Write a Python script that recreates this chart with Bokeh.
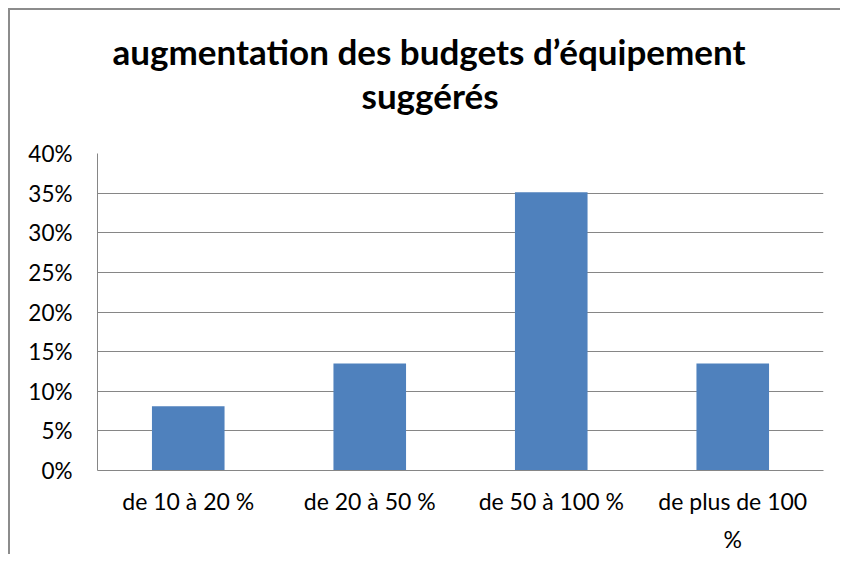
from bokeh.plotting import figure
from bokeh.models import Range1d, FixedTicker, NumeralTickFormatter, Title, LinearAxis
from bokeh.embed import file_html
from bokeh.resources import INLINE

# ---- data ----
categories = ["de 10 à 20 %", "de 20 à 50 %", "de 50 à 100 %", "de plus de 100 %"]
values = [0.081, 0.135, 0.351, 0.135]
y_ticks = [0.0, 0.05, 0.10, 0.15, 0.20, 0.25, 0.30, 0.35, 0.40]
title_lines = ["augmentation des budgets d’équipement", "suggérés"]

FONT = "Lato"
GRID = "#868686"

p = figure(width=832, height=546, output_backend="svg", toolbar_location=None,
           x_range=Range1d(0, len(categories)), y_range=Range1d(0, 0.40),
           min_border_left=87, min_border_right=19, min_border_top=143, min_border_bottom=86)
p.styles = {"border-left": "2px solid #8c8c8c", "border-top": "2px solid #8c8c8c",
            "margin-left": "8px", "margin-top": "8px"}
p.outline_line_color = None
p.background_fill_color = "white"
p.border_fill_color = "white"

xs = [i + 0.5 for i in range(len(categories))]
p.vbar(x=xs, top=values, width=0.4, color="#4F81BD", line_color=None)

# wrap long category labels onto two lines (as in the original)
line1, line2 = {}, {}
for x, c in zip(xs, categories):
    if len(c) > 14:
        a, b = c.rsplit(" ", 1)
        line1[x], line2[x] = a, b
    else:
        line1[x], line2[x] = c, ""

def style_x(ax, standoff):
    ax.ticker = FixedTicker(ticks=xs)
    ax.major_tick_line_color = None
    ax.minor_tick_line_color = None
    ax.major_tick_out = 0
    ax.major_tick_in = 0
    ax.minor_tick_out = 0
    ax.major_label_standoff = standoff
    ax.major_label_text_font = FONT
    ax.major_label_text_font_size = "23px"
    ax.major_label_text_color = "black"

xa = p.xaxis[0]
style_x(xa, 16)
xa.major_label_overrides = line1
xa.axis_line_color = GRID

xa2 = LinearAxis()
style_x(xa2, 7)
xa2.major_label_overrides = line2
xa2.axis_line_color = None
p.add_layout(xa2, "below")
p.xgrid.grid_line_color = None

# y axis
ya = p.yaxis[0]
ya.ticker = FixedTicker(ticks=y_ticks)
ya.formatter = NumeralTickFormatter(format="0%")
ya.axis_line_color = GRID
ya.major_tick_line_color = None
ya.minor_tick_line_color = None
ya.major_tick_out = 0
ya.major_tick_in = 0
ya.minor_tick_out = 0
ya.major_label_standoff = 25
ya.major_label_text_font = FONT
ya.major_label_text_font_size = "22.5px"
ya.major_label_text_color = "black"
p.ygrid.grid_line_color = GRID
p.ygrid.grid_line_width = 1
p.ygrid.ticker = FixedTicker(ticks=y_ticks)

# title: spacer nearest the plot, then the two lines
p.add_layout(Title(text=" ", text_font_size="1px", standoff=35), "above")
p.add_layout(Title(text=title_lines[1], align="left", offset=264, standoff=0,
                   text_font=FONT, text_font_style="bold", text_font_size="35px",
                   text_color="black"), "above")
p.add_layout(Title(text=title_lines[0], align="left", offset=15, standoff=0,
                   text_font=FONT, text_font_style="bold", text_font_size="35px",
                   text_color="black"), "above")

open("out.html", "w").write(file_html(p, INLINE))
